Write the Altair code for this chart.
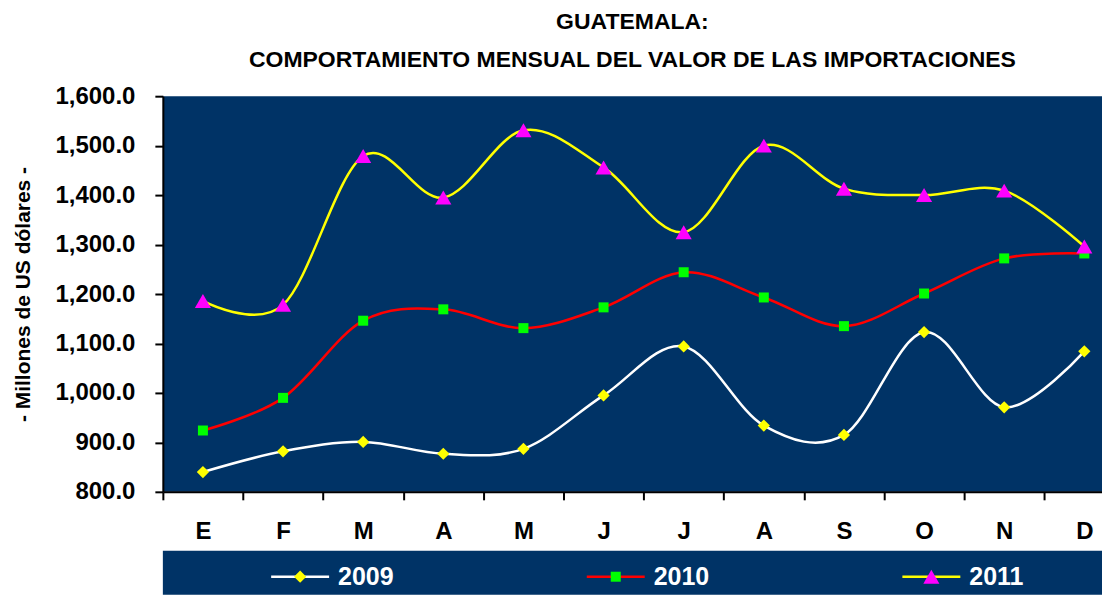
import json
import altair as alt
import pandas as pd

# ---- data ----
months = ["E", "F", "M", "A", "M", "J", "J", "A", "S", "O", "N", "D"]
years = ["2009", "2010", "2011"]
v2009 = [840, 882, 901, 877, 887, 995, 1094, 934, 915, 1123, 971, 1084]
v2010 = [924, 990, 1146, 1169, 1131, 1173, 1244, 1193, 1135, 1201, 1272, 1282]
v2011 = [1186, 1178, 1479, 1395, 1531, 1456, 1325, 1500, 1413, 1400, 1409, 1296]

line_colors = ["#FFFFFF", "#FF0000", "#FFFF00"]
marker_colors = ["#FFFF00", "#00FF00", "#FF00FF"]
marker_shapes = ["diamond", "square", "triangle-up"]
marker_sizes = [150, 100, 260]

rows = []
for yr, vals in zip(years, [v2009, v2010, v2011]):
    for i, v in enumerate(vals):
        rows.append({"year": yr, "idx": i, "month": months[i], "value": v})
df = pd.DataFrame(rows)
leg_df = pd.DataFrame({"year": years, "pos": list(range(len(years)))})

# ---- layout / style ----
FONT = "Liberation Sans"
NAVY = "#003366"
W = 940
H = 396
STEP = 80.2
X_MAX = W / STEP - 0.5
LEG_STEP = 315.9
LEG_X0 = 137.4

stroke_enc = alt.Stroke("year:N", scale=alt.Scale(domain=years, range=line_colors), legend=None)
fill_enc = alt.Fill("year:N", scale=alt.Scale(domain=years, range=marker_colors), legend=None)
shape_enc = alt.Shape("year:N", scale=alt.Scale(domain=years, range=marker_shapes), legend=None)
size_enc = alt.Size("year:N", scale=alt.Scale(type="ordinal", domain=years, range=marker_sizes), legend=None)

x_enc = alt.X(
    "idx:Q",
    scale=alt.Scale(domain=[-0.5, X_MAX], nice=False, zero=False),
    axis=alt.Axis(
        values=list(range(len(months))),
        labelExpr=json.dumps(months) + "[datum.value]",
        tickOffset=-STEP / 2,
        labelOffset=STEP / 2,
        title=None,
        labelFontSize=24,
        labelPadding=20,
        tickSize=8,
        labelAngle=0,
    ),
)
y_enc = alt.Y(
    "value:Q",
    scale=alt.Scale(domain=[800, 1600], nice=False, zero=False),
    axis=alt.Axis(
        values=list(range(800, 1601, 100)),
        format=",.1f",
        title="- Millones de US dólares -",
        titleFontSize=21,
        titlePadding=21,
        labelFontSize=24,
        labelPadding=20,
        tickSize=8,
    ),
)

base = alt.Chart(df)
lines = base.mark_line(interpolate="cardinal", strokeWidth=2.5).encode(
    x=x_enc, y=y_enc, stroke=stroke_enc
)
points = base.mark_point(filled=True, opacity=1, strokeWidth=0).encode(
    x="idx:Q", y="value:Q", fill=fill_enc, shape=shape_enc, size=size_enc
)

main = alt.layer(lines, points).properties(
    width=W,
    height=H,
    title=alt.Title(
        text=["GUATEMALA:", "COMPORTAMIENTO MENSUAL  DEL VALOR DE LAS IMPORTACIONES"],
        font=FONT,
        fontSize=23,
        fontWeight="bold",
        color="black",
        lineHeight=38,
        anchor="middle",
        frame="group",
        offset=12,
    ),
)

# ---- legend panel ----
leg_x = alt.X(
    "pos:Q",
    scale=alt.Scale(domain=[-LEG_X0 / LEG_STEP, (W - LEG_X0) / LEG_STEP], nice=False, zero=False),
    axis=None,
)
leg_y = alt.YDatum(0, scale=alt.Scale(domain=[-1, 1.44], nice=False, zero=False), axis=None)
leg_base = alt.Chart(leg_df)
leg_rule = leg_base.mark_rule(strokeWidth=2.5, xOffset=-29, x2Offset=29).encode(
    x=leg_x, x2=alt.X2("pos:Q"), y=leg_y, stroke=stroke_enc
)
leg_point = leg_base.mark_point(filled=True, opacity=1, strokeWidth=0).encode(
    x=leg_x, y=leg_y, fill=fill_enc, shape=shape_enc, size=size_enc
)
leg_text = leg_base.mark_text(
    align="left", baseline="middle", dx=38, fontSize=25, fontWeight="bold",
    font=FONT, color="white"
).encode(x=leg_x, y=leg_y, text="year:N")
legend = alt.layer(leg_rule, leg_point, leg_text).properties(width=W, height=44)

chart = (
    alt.vconcat(main, legend, spacing=7)
    .properties(padding={"left": 4, "top": 3, "right": 0, "bottom": 0}, background="white")
    .configure_view(fill=NAVY, stroke=None)
    .configure_axis(
        labelFont=FONT,
        titleFont=FONT,
        labelFontWeight="bold",
        titleFontWeight="bold",
        labelColor="black",
        titleColor="black",
        domainColor="black",
        tickColor="black",
        domainWidth=2,
        tickWidth=2,
        grid=False,
    )
)

chart.save("out.html", embed_options={"renderer": "svg", "actions": False})
